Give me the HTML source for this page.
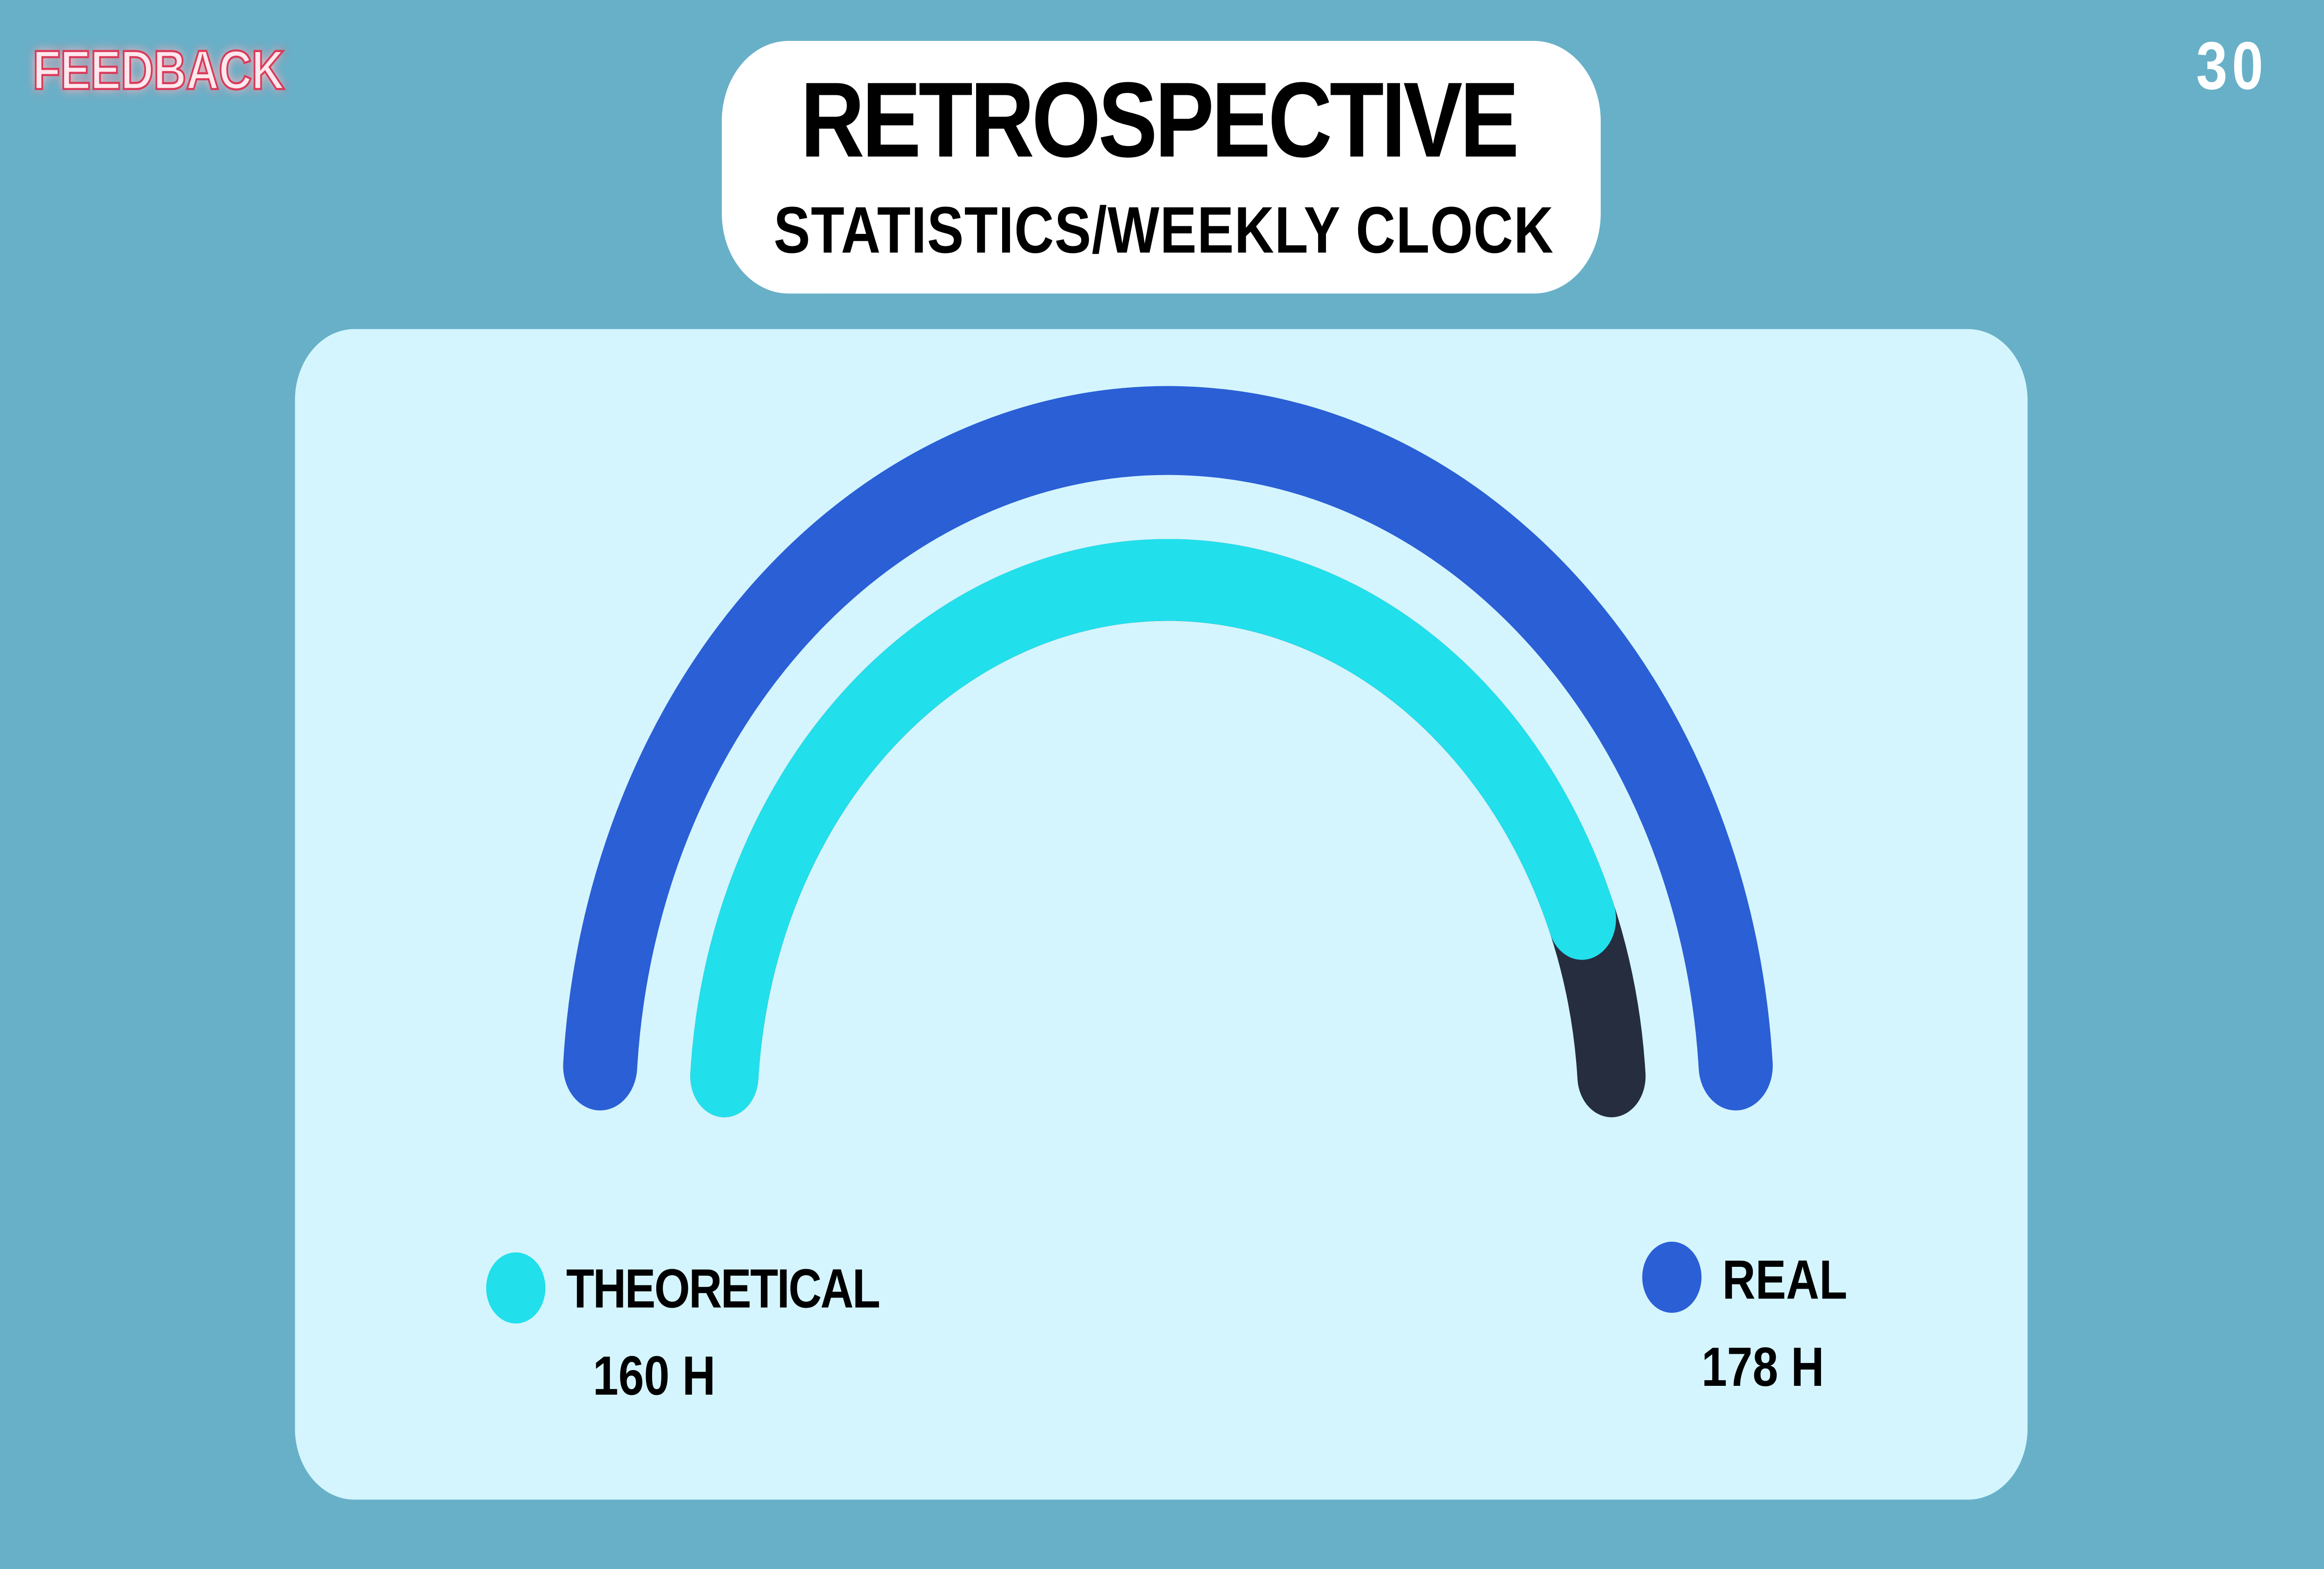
<!DOCTYPE html>
<html><head><meta charset="utf-8"><style>
html,body{margin:0;padding:0;width:100%;height:100%;overflow:hidden;background:#68b0c8}
svg{display:block;width:100vw;height:100vh}
</style></head><body>
<svg id="chart" viewBox="0 0 1568 882" preserveAspectRatio="none" xmlns="http://www.w3.org/2000/svg">
<defs><filter id="glow" x="-20%" y="-50%" width="140%" height="200%"><feGaussianBlur stdDeviation="3" result="b"/><feMerge><feMergeNode in="b"/><feMergeNode in="SourceGraphic"/></feMerge></filter></defs>
<rect x="0" y="0" width="1568" height="882" fill="#68b0c8"/>
<text x="22" y="50" font-family="Liberation Sans, sans-serif" font-size="31" font-weight="bold" letter-spacing="3" fill="#ffe8ee" stroke="#d93a5a" stroke-width="1.2" filter="url(#glow)" textLength="173">FEEDBACK</text>
<text x="1530" y="50" text-anchor="end" font-family="Liberation Sans, sans-serif" font-size="38" font-weight="bold" letter-spacing="3" fill="#ffffff">30</text>
<rect x="487" y="23" width="593" height="142" rx="45" fill="#ffffff"/>
<text x="785" y="88" text-anchor="middle" font-family="Liberation Sans, sans-serif" font-size="60" font-weight="bold" letter-spacing="5" fill="#000" textLength="490">RETROSPECTIVE</text>
<text x="786" y="142" text-anchor="middle" font-family="Liberation Sans, sans-serif" font-size="37" font-weight="bold" letter-spacing="2" fill="#000" textLength="528">STATISTICS/WEEKLY CLOCK</text>
<rect x="199" y="185" width="1169" height="658" rx="40" fill="#d4f5fe"/>
<g id="arcs"></g>
<circle cx="348" cy="724" r="20" fill="#22dfec"/>
<text x="382" y="735" font-family="Liberation Sans, sans-serif" font-size="31" font-weight="bold" fill="#000" textLength="212">THEORETICAL</text>
<text id="theoVal" x="400" y="784" font-family="Liberation Sans, sans-serif" font-size="31" font-weight="bold" fill="#000"></text>
<circle cx="1128" cy="718" r="20" fill="#2b5fd5"/>
<text x="1162" y="730" font-family="Liberation Sans, sans-serif" font-size="31" font-weight="bold" fill="#000">REAL</text>
<text id="realVal" x="1148" y="779" font-family="Liberation Sans, sans-serif" font-size="31" font-weight="bold" fill="#000"></text>
</svg>
<script>
const seriesNames = ["THEORETICAL", "REAL"];
const theoreticalHours = [160];
const realHours = [178];
const scaleMax = [178];

const NS = "http://www.w3.org/2000/svg";
const cx = 788, cy = 626, startDeg = 176, endDeg = 4;
function angleScale(v) { const m = scaleMax[0]; return startDeg - (startDeg - endDeg) * Math.max(0, Math.min(1, v / m)); }
function pt(r, deg) { const a = deg * Math.PI / 180; return [cx + r * Math.cos(a), cy - r * Math.sin(a)]; }
function arcPath(r, d0, d1) {
  const p0 = pt(r, d0), p1 = pt(r, d1);
  const large = (d0 - d1) > 180 ? 1 : 0;
  return "M" + p0[0] + " " + p0[1] + " A" + r + " " + r + " 0 " + large + " 1 " + p1[0] + " " + p1[1];
}
const g = document.getElementById("arcs");
function addArc(name, r, w, d1, color) {
  const p = document.createElementNS(NS, "path");
  
  
  p.setAttribute("d", arcPath(r, startDeg, d1));
  p.setAttribute("fill", "none");
  p.setAttribute("stroke", color);
  p.setAttribute("stroke-width", w);
  p.setAttribute("stroke-linecap", "round");
  g.appendChild(p);
}
addArc("real-arc", 384, 50, angleScale(realHours[0]), "#2b5fd5");
addArc("theoretical-track", 300, 46, angleScale(scaleMax[0]), "#252d3f");
addArc("theoretical-arc", 300, 46, angleScale(theoreticalHours[0]), "#22dfec");
document.getElementById("theoVal").textContent = theoreticalHours[0] + " H";
document.getElementById("realVal").textContent = realHours[0] + " H";
</script>
</body></html>
